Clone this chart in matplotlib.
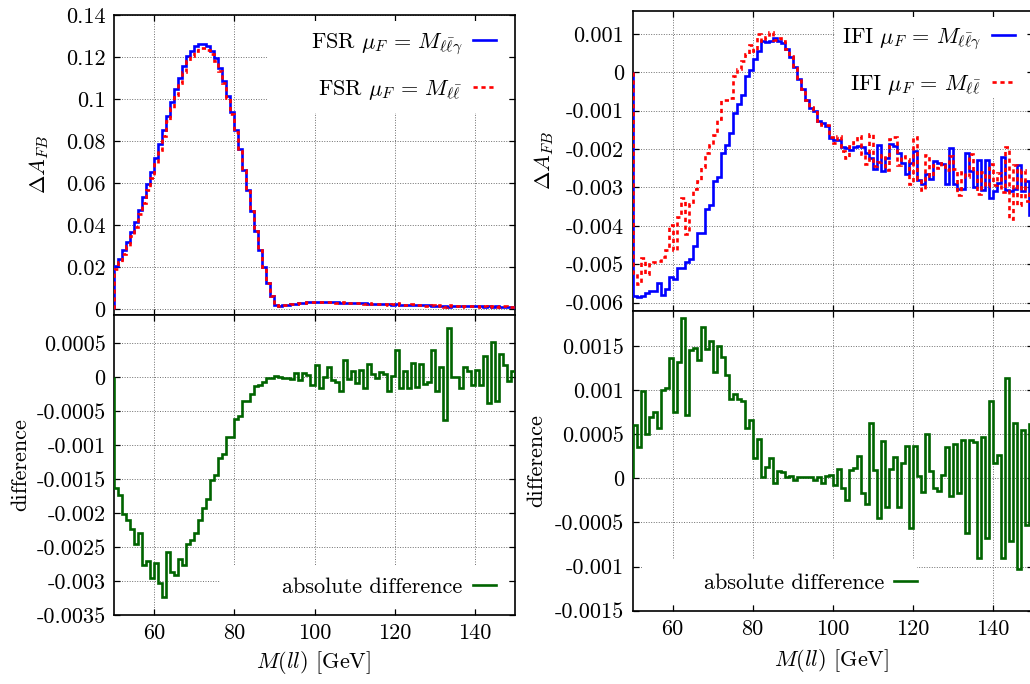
import numpy as np
import matplotlib
matplotlib.use("Agg")
import matplotlib.pyplot as plt
from matplotlib.patches import Rectangle

plt.rcParams['font.family'] = 'serif'
plt.rcParams['font.serif'] = ['cmr10']
plt.rcParams['mathtext.fontset'] = 'cm'
plt.rcParams['axes.unicode_minus'] = False

# bin edges in M(ll) [GeV], 1 GeV bins
mass_edges = np.arange(50, 151)
x_ticks = [60, 80, 100, 120, 140]

# FSR: Delta A_FB with mu_F = M_llgamma (blue), and difference (dashed - solid)
fsr_llg = [
    0.0206, 0.0240, 0.0280, 0.0320, 0.0368, 0.0416, 0.0473, 0.0533, 0.0594, 0.0654,
    0.0720, 0.0787, 0.0854, 0.0920, 0.0987, 0.1048, 0.1102, 0.1156, 0.1206, 0.1229,
    0.1250, 0.1263, 0.1263, 0.1250, 0.1229, 0.1194, 0.1146, 0.1086, 0.1013, 0.0937,
    0.0850, 0.0760, 0.0663, 0.0565, 0.0467, 0.0372, 0.0280, 0.0198, 0.0122, 0.0063,
    0.0019, 0.0015, 0.0017, 0.0019, 0.0022, 0.0025, 0.0027, 0.0029, 0.0031, 0.0032,
    0.0033, 0.0033, 0.0033, 0.0032, 0.0032, 0.0031, 0.0030, 0.0030, 0.0029, 0.0028,
    0.0027, 0.0027, 0.0026, 0.0025, 0.0025, 0.0024, 0.0023, 0.0023, 0.0022, 0.0021,
    0.0022, 0.0020, 0.0020, 0.0019, 0.0019, 0.0018, 0.0018, 0.0017, 0.0017, 0.0016,
    0.0016, 0.0015, 0.0014, 0.0010, 0.0015, 0.0014, 0.0013, 0.0014, 0.0012, 0.0013,
    0.0012, 0.0012, 0.0011, 0.0013, 0.0010, 0.0012, 0.0011, 0.0010, 0.0011, 0.0010,
]
fsr_diff = [
    -0.00164, -0.00174, -0.00202, -0.00210, -0.00224, -0.00246, -0.00230, -0.00277, -0.00270, -0.00295,
    -0.00274, -0.00303, -0.00324, -0.00258, -0.00287, -0.00291, -0.00268, -0.00276, -0.00245, -0.00240,
    -0.00230, -0.00210, -0.00192, -0.00179, -0.00152, -0.00144, -0.00119, -0.00114, -0.00089, -0.00088,
    -0.00062, -0.00058, -0.00036, -0.00035, -0.00025, -0.00014, -0.00012, -0.00007, -0.00002, -0.00002,
    0.00002, 0.00000, -0.00001, -0.00001, -0.00003, 0.00006, -0.00005, 0.00006, 0.00003, -0.00012,
    0.00017, -0.00016, 0.00000, 0.00014, -0.00004, -0.00007, -0.00020, 0.00025, -0.00003, 0.00008,
    -0.00009, 0.00010, -0.00017, 0.00019, 0.00005, -0.00002, 0.00007, 0.00005, -0.00020, 0.00002,
    0.00039, -0.00017, 0.00008, -0.00017, 0.00021, -0.00015, 0.00019, -0.00011, -0.00008, 0.00039,
    -0.00020, 0.00015, -0.00064, 0.00072, 0.00000, 0.00000, -0.00017, 0.00015, 0.00009, -0.00012,
    0.00010, -0.00012, 0.00031, -0.00039, 0.00052, -0.00035, 0.00033, 0.00017, -0.00006, 0.00009,
]

# IFI
ifi_llg = [
    -0.00583, -0.00586, -0.00583, -0.00576, -0.00569, -0.00569, -0.00548, -0.00581, -0.00564, -0.00534,
    -0.00538, -0.00510, -0.00510, -0.00493, -0.00487, -0.00453, -0.00418, -0.00418, -0.00357, -0.00345,
    -0.00284, -0.00272, -0.00210, -0.00189, -0.00158, -0.00106, -0.00082, -0.00059, -0.00009, 0.00005,
    0.00033, 0.00054, 0.00080, 0.00078, 0.00082, 0.00090, 0.00082, 0.00075, 0.00059, 0.00040,
    0.00014, -0.00017, -0.00045, -0.00073, -0.00094, -0.00102, -0.00128, -0.00132, -0.00141, -0.00172,
    -0.00177, -0.00176, -0.00195, -0.00198, -0.00202, -0.00195, -0.00191, -0.00195, -0.00210, -0.00223,
    -0.00252, -0.00190, -0.00257, -0.00223, -0.00186, -0.00193, -0.00210, -0.00236, -0.00264, -0.00236,
    -0.00205, -0.00282, -0.00292, -0.00266, -0.00278, -0.00230, -0.00236, -0.00240, -0.00292, -0.00197,
    -0.00292, -0.00304, -0.00304, -0.00210, -0.00257, -0.00300, -0.00228, -0.00308, -0.00228, -0.00327,
    -0.00310, -0.00289, -0.00221, -0.00308, -0.00310, -0.00304, -0.00242, -0.00310, -0.00283, -0.00373,
]
ifi_diff = [
    0.00060, 0.00035, 0.00099, 0.00050, 0.00069, 0.00075, 0.00057, 0.00100, 0.00102, 0.00136,
    0.00075, 0.00132, 0.00182, 0.00072, 0.00145, 0.00148, 0.00134, 0.00171, 0.00147, 0.00156,
    0.00121, 0.00150, 0.00138, 0.00117, 0.00090, 0.00096, 0.00090, 0.00088, 0.00057, 0.00066,
    0.00023, 0.00045, 0.00001, 0.00013, 0.00023, -0.00005, 0.00008, 0.00007, 0.00002, 0.00003,
    -0.00002, 0.00001, 0.00001, 0.00001, 0.00002, -0.00002, 0.00002, -0.00005, 0.00003, 0.00004,
    -0.00008, 0.00011, -0.00011, -0.00025, 0.00009, 0.00012, 0.00025, -0.00017, -0.00029, 0.00063,
    0.00009, -0.00045, 0.00042, -0.00032, 0.00011, 0.00024, -0.00032, 0.00017, 0.00037, -0.00056,
    0.00037, 0.00003, -0.00016, 0.00050, 0.00008, -0.00011, -0.00014, 0.00004, 0.00036, -0.00020,
    0.00039, -0.00017, 0.00044, -0.00062, 0.00043, 0.00041, -0.00090, 0.00047, -0.00068, 0.00088,
    0.00017, 0.00026, -0.00090, 0.00114, -0.00071, 0.00063, -0.00103, 0.00055, -0.00053, 0.00062,
]

# mu_F = M_ll curves = mu_F = M_llgamma + difference
fsr_ll = np.array(fsr_llg) + np.array(fsr_diff)
ifi_ll = np.array(ifi_llg) + np.array(ifi_diff)

fsr_top_ticks = [0, 0.02, 0.04, 0.06, 0.08, 0.1, 0.12, 0.14]
fsr_top_labels = ['0', '0.02', '0.04', '0.06', '0.08', '0.1', '0.12', '0.14']
fsr_bot_ticks = [0.0005, 0, -0.0005, -0.001, -0.0015, -0.002, -0.0025, -0.003, -0.0035]
fsr_bot_labels = ['0.0005', '0', '-0.0005', '-0.001', '-0.0015', '-0.002', '-0.0025', '-0.003', '-0.0035']
ifi_top_ticks = [0.001, 0, -0.001, -0.002, -0.003, -0.004, -0.005, -0.006]
ifi_top_labels = ['0.001', '0', '-0.001', '-0.002', '-0.003', '-0.004', '-0.005', '-0.006']
ifi_bot_ticks = [0.0015, 0.001, 0.0005, 0, -0.0005, -0.001, -0.0015]
ifi_bot_labels = ['0.0015', '0.001', '0.0005', '0', '-0.0005', '-0.001', '-0.0015']

BLUE = '#0000ff'
RED = '#ff0000'
GREEN = '#006400'
FS = 16

W, H = 1030, 684
fig = plt.figure(figsize=(W / 100, H / 100), dpi=100)


def px_axes(x0, y0, x1, y1):
    return fig.add_axes([x0 / W, 1 - y1 / H, (x1 - x0) / W, (y1 - y0) / H])


def style(ax, ylim, yticks, ylabels, show_x):
    ax.set_xlim(50, 150)
    ax.set_ylim(*ylim)
    ax.set_xticks(x_ticks)
    ax.set_xticklabels([str(t) for t in x_ticks] if show_x else [])
    ax.set_yticks(yticks)
    ax.set_yticklabels(ylabels)
    ax.tick_params(direction='in', length=4, width=0.9, top=True, right=True,
                   labelsize=FS, pad=6)
    ax.grid(True, color='#6e6e6e', linestyle=(0, (1, 1.6)), linewidth=0.7)
    for s in ax.spines.values():
        s.set_linewidth(1.2)


def mask(ax, x0, y0, x1, y1):
    # opaque key area, as in the original (hides the grid behind the legend)
    ax.add_patch(Rectangle((x0, y0), x1 - x0, y1 - y0, transform=ax.transAxes,
                           facecolor='white', edgecolor='none', zorder=2))


# left panel (FSR)
ax1 = px_axes(114, 15, 515, 315)
ax2 = px_axes(114, 315, 515, 615)
# right panel (IFI)
ax3 = px_axes(632.7, 10.7, 1032.7, 310.7)
ax4 = px_axes(632.7, 310.7, 1032.7, 610.7)

style(ax1, (-0.0029, 0.14), fsr_top_ticks, fsr_top_labels, False)
style(ax2, (-0.0035, 0.00091), fsr_bot_ticks, fsr_bot_labels, True)
style(ax3, (-0.00621, 0.0016), ifi_top_ticks, ifi_top_labels, False)
style(ax4, (-0.0015, 0.0019), ifi_bot_ticks, ifi_bot_labels, True)

mask(ax1, 0.3815, 0.673, 0.985, 0.98)
mask(ax2, 0.264, 0.02, 0.985, 0.167)
mask(ax3, 0.506, 0.712, 0.985, 0.98)
mask(ax4, 0.023, 0.02, 0.71, 0.172)

lw = 1.9
ax1.stairs(fsr_llg, mass_edges, baseline=0, color=BLUE, lw=lw, zorder=3,
           label=r'FSR $\mu_F\,=\,M_{\ell\bar{\ell}\gamma}$')
ax1.stairs(fsr_ll, mass_edges, baseline=0, color=RED, lw=lw, zorder=4,
           linestyle=(0, (1.6, 1.4)), label=r'FSR $\mu_F\,=\,M_{\ell\bar{\ell}}$')
ax2.stairs(fsr_diff, mass_edges, baseline=0, color=GREEN, lw=lw, zorder=3,
           label='absolute difference')

ax3.stairs(ifi_llg, mass_edges, baseline=0, color=BLUE, lw=lw, zorder=3,
           label=r'IFI $\mu_F\,=\,M_{\ell\bar{\ell}\gamma}$')
ax3.stairs(ifi_ll, mass_edges, baseline=0, color=RED, lw=lw, zorder=4,
           linestyle=(0, (1.6, 1.4)), label=r'IFI $\mu_F\,=\,M_{\ell\bar{\ell}}$')
ax4.stairs(ifi_diff, mass_edges, baseline=0, color=GREEN, lw=lw, zorder=3,
           label='absolute difference')

leg_kw = dict(frameon=False, fontsize=FS, markerfirst=False, handlelength=1.05,
              handletextpad=0.45, borderpad=0, borderaxespad=0, loc='center right')
ax1.legend(labelspacing=0.95, bbox_to_anchor=(0.9526, 0.828), **leg_kw)
ax3.legend(labelspacing=0.95, bbox_to_anchor=(0.956, 0.831), **leg_kw)
ax2.legend(bbox_to_anchor=(0.9526, 0.093), **leg_kw)
ax4.legend(bbox_to_anchor=(0.711, 0.092), **leg_kw)

# axis titles
fig.text(39 / W, 1 - 165 / H, r'$\Delta A_{FB}$', rotation=90, ha='center', va='center', fontsize=FS)
fig.text(20 / W, 1 - 465 / H, 'difference', rotation=90, ha='center', va='center', fontsize=FS)
fig.text(544 / W, 1 - 161 / H, r'$\Delta A_{FB}$', rotation=90, ha='center', va='center', fontsize=FS)
fig.text(536 / W, 1 - 461 / H, 'difference', rotation=90, ha='center', va='center', fontsize=FS)
fig.text(314 / W, 1 - 663 / H, r'$M(ll)$ [GeV]', ha='center', va='center', fontsize=FS)
fig.text(832 / W, 1 - 660 / H, r'$M(ll)$ [GeV]', ha='center', va='center', fontsize=FS)

fig.savefig('out.png', dpi=100)
